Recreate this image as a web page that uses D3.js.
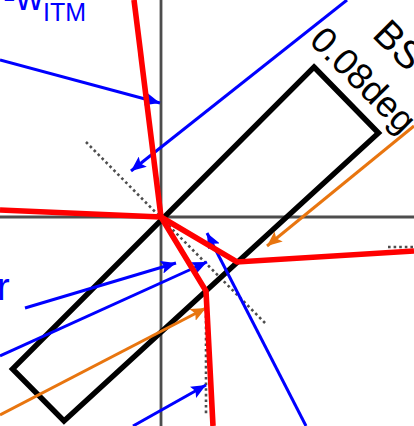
<!DOCTYPE html>
<html>
<head>
<meta charset="utf-8">
<script src="https://cdn.jsdelivr.net/npm/d3@7"></script>
<style>
  html, body { margin: 0; padding: 0; background: #fff; overflow: hidden; }
  text { font-family: "Liberation Sans", sans-serif; }
</style>
</head>
<body>
<svg id="canvas"></svg>
<script>
// all points are offsets from the axis crossing, y pointing up
const axisLines = [
  [[-161, 0], [253, 0]],
  [[0, 217], [0, -209]],
];
const mirrorCorners = [[153, 150], [217.5, 84], [-97, -204], [-148.5, -152]];
const dottedLines = [
  [[-75, 75], [105, -107]],
  [[45, -76], [45, -197]],
  [[227, -30], [253, -30]],
];
const redBeams = [
  [[-27, 217], [0, 0]],
  [[-161, 7], [0, 0]],
  [[0, 0], [45, -74], [52, -209]],
  [[0, 0], [76, -45], [253, -34]],
];
const blueArrows = [
  [[-161, 157], [-1, 114]],
  [[186, 217], [-30, 46]],
  [[-136, -91], [15, -46]],
  [[-161, -139], [46, -45]],
  [[-28, -209], [45, -168]],
  [[145, -209], [46, -16]],
];
const orangeArrows = [
  [[-161, -198], [45, -91]],
  [[253, 91], [106, -29]],
];

const canvasWidth = 414;
const canvasHeight = 426;

const canvas = d3.select("#canvas")
  .attr("width", canvasWidth)
  .attr("height", canvasHeight);

const xScale = d3.scaleLinear().domain([-161, 253]).range([0, canvasWidth]);
const yScale = d3.scaleLinear().domain([217, -209]).range([0, canvasHeight]);
const line = d3.line().x((d) => xScale(d[0])).y((d) => yScale(d[1]));

const addMarker = (id, color) => {
  canvas.append("defs").append("marker")
    .attr("id", id)
    .attr("markerUnits", "userSpaceOnUse")
    .attr("markerWidth", 15)
    .attr("markerHeight", 13)
    .attr("viewBox", "0 0 15 13")
    .attr("refX", 15)
    .attr("refY", 6.5)
    .attr("orient", "auto")
    .append("path")
    .attr("d", "M0,0L15,6.5L0,13L3,6.5Z")
    .attr("fill", color);
};
addMarker("head-blue", "#0000ff");
addMarker("head-orange", "#e8750f");

const drawLines = (data, color, width, extra) => {
  const sel = canvas.append("g")
    .selectAll("path")
    .data(data)
    .enter()
    .append("path")
    .attr("d", line)
    .attr("fill", "none")
    .attr("stroke", color)
    .attr("stroke-width", width);
  if (extra) extra(sel);
};

drawLines(axisLines, "#4d4d4d", 2.8);
drawLines(dottedLines, "#4d4d4d", 2.6, (s) => s.attr("stroke-dasharray", "2.6 3"));

canvas.append("path")
  .attr("d", line(mirrorCorners) + "Z")
  .attr("fill", "none")
  .attr("stroke", "#000")
  .attr("stroke-width", 5.4)
  .attr("stroke-linejoin", "miter");

drawLines(blueArrows, "#0000ff", 3, (s) => s.attr("marker-end", "url(#head-blue)"));
drawLines(orangeArrows, "#e8750f", 3, (s) => s.attr("marker-end", "url(#head-orange)"));
drawLines(redBeams, "#ff0000", 5.6, (s) => s.attr("stroke-linejoin", "miter"));

const rotated = (str, x, y, size) => {
  canvas.append("text")
    .attr("transform", `translate(${xScale(x)},${yScale(y)}) rotate(45)`)
    .attr("font-size", size)
    .attr("fill", "#000")
    .text(str);
};
rotated("BS", 210, 181, 39);
rotated("0.08deg", 147, 175, 36.5);

const wLabel = canvas.append("text")
  .attr("x", xScale(-161) + 3)
  .attr("y", yScale(207))
  .attr("font-size", 38)
  .attr("fill", "#0000ff");
wLabel.append("tspan").text("-w");
wLabel.append("tspan").attr("font-size", 25).attr("dy", 11).text("ITM");

canvas.append("text")
  .attr("x", xScale(-161) - 3)
  .attr("y", yScale(-83))
  .attr("font-size", 38)
  .attr("fill", "#0000ff")
  .text("r");
</script>
</body>
</html>
